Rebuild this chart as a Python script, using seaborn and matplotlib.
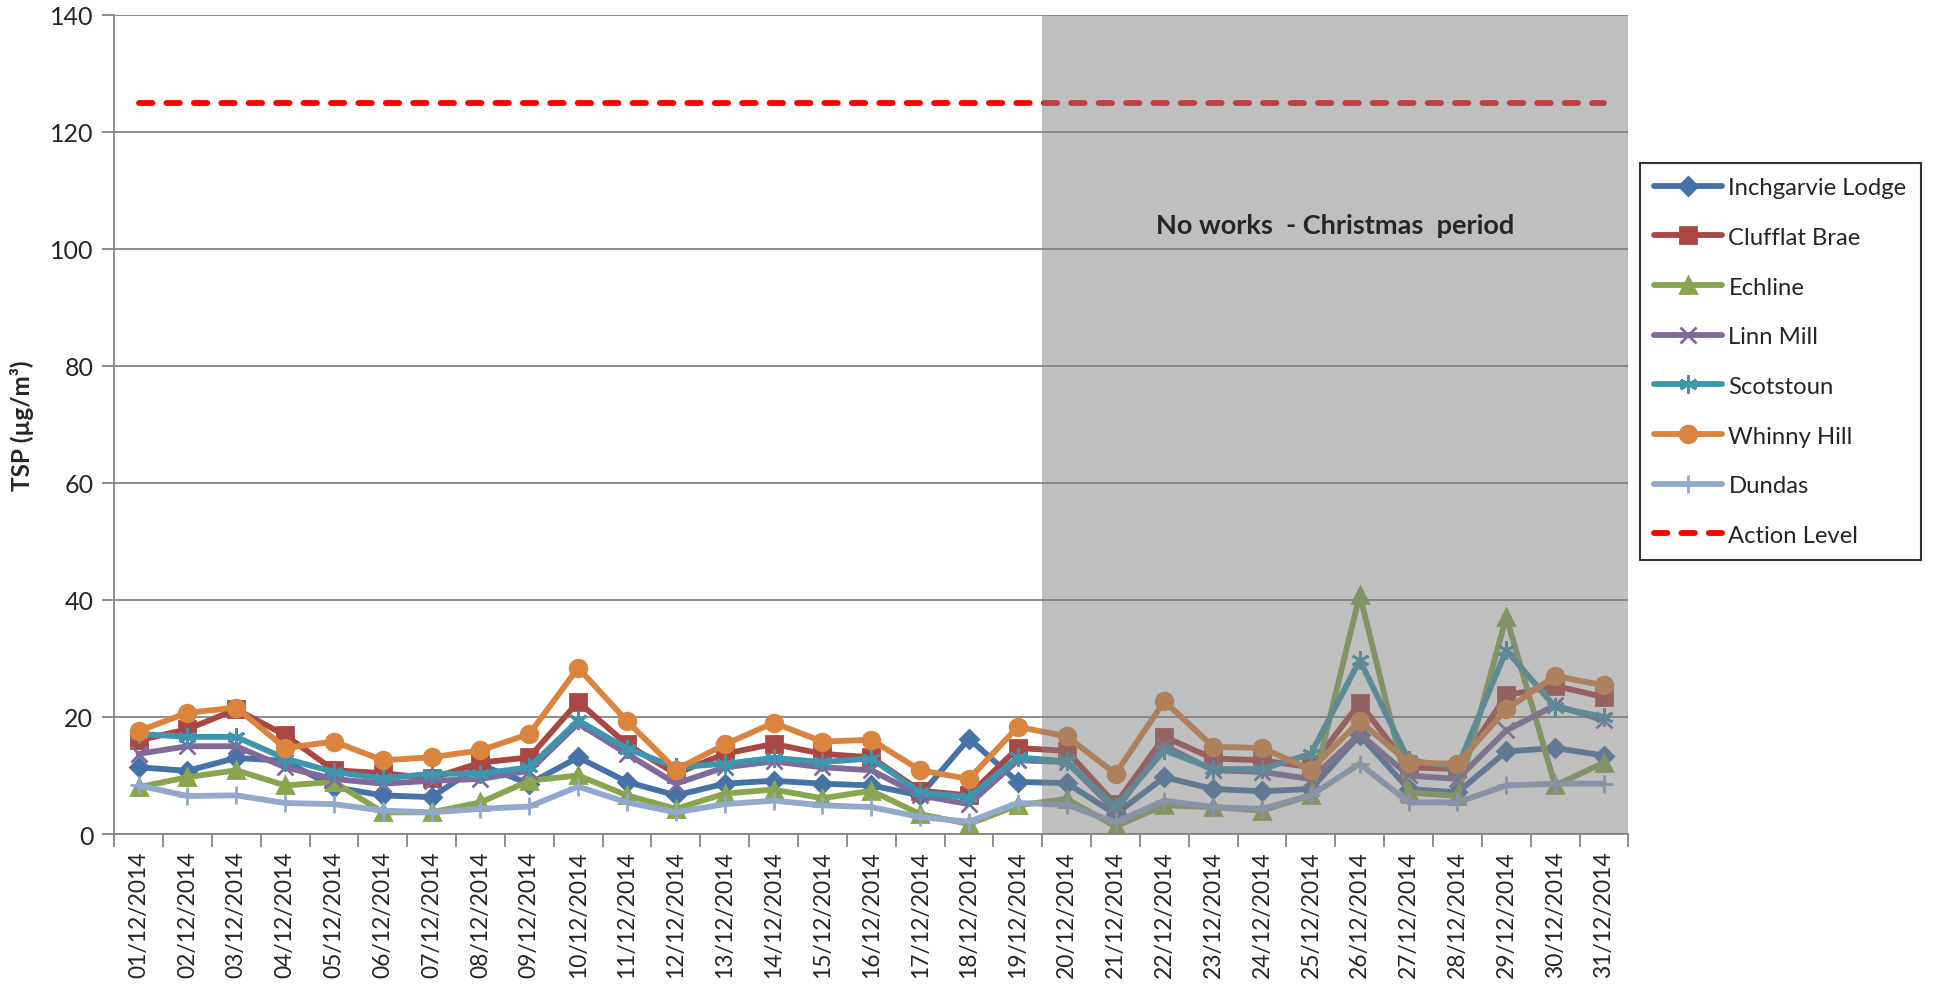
import numpy as np
import pandas as pd
import matplotlib
matplotlib.use("Agg")
import matplotlib.pyplot as plt
import seaborn as sns

# daily TSP readings, December 2014
dates = ["01/12/2014", "02/12/2014", "03/12/2014", "04/12/2014", "05/12/2014",
         "06/12/2014", "07/12/2014", "08/12/2014", "09/12/2014", "10/12/2014",
         "11/12/2014", "12/12/2014", "13/12/2014", "14/12/2014", "15/12/2014",
         "16/12/2014", "17/12/2014", "18/12/2014", "19/12/2014", "20/12/2014",
         "21/12/2014", "22/12/2014", "23/12/2014", "24/12/2014", "25/12/2014",
         "26/12/2014", "27/12/2014", "28/12/2014", "29/12/2014", "30/12/2014",
         "31/12/2014"]

inchgarvie_lodge = [11.4, 10.8, 13.0, 12.5, 8.0, 6.6, 6.3, 11.8, 8.6, 13.1, 8.9,
                    6.6, 8.6, 9.1, 8.6, 8.3, 6.6, 16.3, 8.9, 8.7, 3.4, 9.7, 7.7,
                    7.3, 7.7, 16.9, 7.7, 7.1, 14.1, 14.7, 13.4]
clufflat_brae = [16.0, 17.9, 21.3, 16.9, 10.9, 10.4, 9.5, 12.2, 13.1, 22.6, 15.3,
                 10.3, 13.7, 15.4, 13.7, 13.1, 7.4, 6.6, 14.7, 14.2, 5.1, 16.6, 12.9,
                 12.6, 11.4, 22.4, 11.4, 11.1, 23.7, 25.3, 23.4]
echline = [8.0, 9.7, 10.9, 8.3, 8.9, 3.7, 3.7, 5.4, 9.1, 10.0, 6.6,
           4.3, 6.9, 7.6, 6.1, 7.4, 3.4, 1.7, 4.9, 6.0, 1.3, 4.9, 4.6,
           4.0, 6.6, 40.9, 7.1, 6.5, 37.1, 8.3, 12.2]
linn_mill = [13.7, 15.0, 15.0, 11.4, 9.4, 8.6, 9.1, 9.4, 10.8, 18.9, 13.7,
             8.6, 11.4, 12.4, 11.4, 10.9, 6.6, 5.1, 12.6, 12.3, 4.0, 15.1, 10.9,
             10.6, 9.4, 17.1, 10.0, 9.4, 17.7, 22.0, 19.4]
scotstoun = [17.1, 16.6, 16.6, 12.9, 10.6, 9.5, 10.3, 10.3, 11.4, 19.4, 14.6,
             11.4, 12.0, 13.0, 12.3, 12.9, 7.1, 6.3, 13.1, 12.4, 4.6, 14.3, 11.1,
             11.1, 13.7, 29.7, 12.6, 11.4, 31.4, 21.7, 20.0]
whinny_hill = [17.6, 20.7, 21.6, 14.7, 15.8, 12.6, 13.1, 14.3, 17.1, 28.4, 19.3,
               11.0, 15.3, 19.0, 15.8, 16.1, 10.9, 9.4, 18.3, 16.7, 10.3, 22.7, 14.9,
               14.7, 11.0, 19.3, 12.2, 12.0, 21.3, 27.0, 25.4]
dundas = [8.3, 6.5, 6.6, 5.3, 5.1, 4.0, 3.7, 4.3, 4.7, 8.1, 5.4,
          3.7, 5.1, 5.7, 4.9, 4.6, 2.9, 2.1, 5.3, 5.0, 2.0, 5.7, 4.6,
          4.3, 6.6, 12.0, 5.4, 5.4, 8.3, 8.6, 8.6]
action_level = 125
christmas_start = "20/12/2014"

series = [
    ("Inchgarvie Lodge", inchgarvie_lodge, "#4572A7", "D", 9),
    ("Clufflat Brae", clufflat_brae, "#AA4643", "s", 11),
    ("Echline", echline, "#89A54E", "^", 12),
    ("Linn Mill", linn_mill, "#80699B", "x", 11),
    ("Scotstoun", scotstoun, "#3D96AE", (6, 2, 0), 13),
    ("Whinny Hill", whinny_hill, "#DB843D", "o", 12),
    ("Dundas", dundas, "#92A8CD", "+", 13),
]

sns.set_style("white")
plt.rcParams["font.family"] = ["Lato", "DejaVu Sans"]

fig = plt.figure(figsize=(19.34, 9.87), dpi=100)
ax = fig.add_axes([0.059, 0.154, 0.783, 0.830])

x = np.arange(len(dates))
for name, vals, color, marker, ms in series:
    df = pd.DataFrame({"x": x, "y": vals})
    sns.lineplot(data=df, x="x", y="y", ax=ax, color=color, lw=4.2,
                 marker=marker, markersize=ms, markeredgecolor=color,
                 markerfacecolor=color, markeredgewidth=2, label=name,
                 solid_capstyle="round", solid_joinstyle="round")

sns.lineplot(x=x, y=np.full(len(x), action_level), ax=ax, color="#FF0000",
             lw=4.2, linestyle=(0, (2.3, 2.4)), dash_capstyle="round",
             label="Action Level")

# grey overlay for the shut-down period
start = dates.index(christmas_start) - 0.5
ax.axvspan(start, len(dates) - 0.5, color="#808080", alpha=0.5, lw=0, zorder=5)
ax.text((start + len(dates) - 0.5) / 2, 104, "No works  - Christmas  period",
        ha="center", va="center", fontsize=19.5, fontweight="bold", zorder=6)

ax.set_xlim(-0.5, len(dates) - 0.5)
ax.set_ylim(0, 140)
ax.set_yticks(np.arange(0, 141, 20))
ax.set_xticks(x)
ax.set_xticklabels(dates, rotation=90, fontsize=16.5)
ax.set_xticks(np.arange(-0.5, len(dates), 1), minor=True)
ax.tick_params(axis="x", which="major", length=0, pad=12)
ax.tick_params(axis="x", which="minor", length=9, width=1.3, color="#868686",
               direction="out", bottom=True)
ax.tick_params(axis="y", length=9, width=1.3, color="#868686", direction="out",
               labelsize=18, pad=6, left=True)
ax.grid(axis="y", color="#868686", lw=1.3)
ax.grid(axis="x", visible=False)
for side in ["top", "right"]:
    ax.spines[side].set_visible(False)
for side in ["left", "bottom"]:
    ax.spines[side].set_color("#868686")
    ax.spines[side].set_linewidth(1.3)
ax.set_xlabel("")
ax.set_ylabel("")

fig.text(0.0115, 0.569, "TSP (µg/m³)", rotation=90, ha="center", va="center",
         fontsize=17.5, fontweight="bold")

handles, labels = ax.get_legend_handles_labels()
ax.get_legend().remove()
leg = fig.legend(handles, labels, loc="upper left", bbox_to_anchor=(0.848, 0.834),
                 borderaxespad=0, fontsize=17.2, frameon=True, fancybox=False,
                 handlelength=2.85, handletextpad=0.25, labelspacing=1.2,
                 borderpad=0.6)
leg.get_frame().set_edgecolor("black")
leg.get_frame().set_linewidth(1.5)

fig.savefig("out.png", dpi=100)
